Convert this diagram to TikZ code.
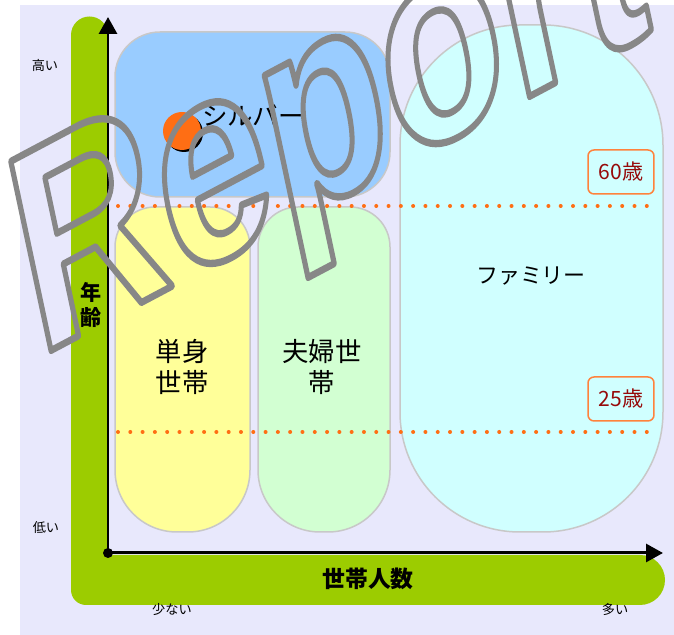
\documentclass[tikz,border=0pt]{standalone}
\usepackage{fontspec}
\setmainfont{Noto Sans CJK JP}
\newfontfamily\wmfont{Liberation Sans}
\usetikzlibrary{arrows.meta}

\definecolor{bglav}{RGB}{232,232,252}
\definecolor{bargreen}{RGB}{156,204,0}
\definecolor{silverblue}{RGB}{153,204,255}
\definecolor{singleyellow}{RGB}{255,255,153}
\definecolor{couplegreen}{RGB}{210,255,210}
\definecolor{familycyan}{RGB}{208,255,255}
\definecolor{regionline}{RGB}{200,200,200}
\definecolor{dotorange}{RGB}{255,110,20}
\definecolor{boxorange}{RGB}{255,130,60}
\definecolor{agered}{RGB}{150,10,10}
\definecolor{dotblack}{RGB}{0,0,0}

\begin{document}
\begin{tikzpicture}
        [x=0.02cm, y=0.02cm,
        region/.style={draw=regionline, line width=0.03cm},
        axis/.style={line width=0.06cm, -{Triangle[length=0.34cm,width=0.36cm]}},
        dotline/.style={draw=dotorange, line width=0.08cm, line cap=round, dash pattern=on 0pt off 0.246cm},
        agebox/.style={draw=boxorange, line width=0.03cm, rounded corners=0.12cm, fill=familycyan,
            minimum width=1.32cm, minimum height=0.88cm, text=agered, font=\fontsize{12}{13}\selectfont},
        smalllabel/.style={inner sep=0, font=\fontsize{7.5}{9}\selectfont},
        grouplabel/.style={inner sep=0, align=center, font=\fontsize{15}{17.6}\selectfont},
        namelabel/.style={inner sep=0, font=\fontsize{12.5}{14}\selectfont},
        axislabel/.style={inner sep=0, align=center, font=\bfseries\fontsize{13}{16}\selectfont}]
        \useasboundingbox (0,0) rectangle (674,635);
        \fill[white] (0,0) rectangle (674,635);
        \fill[bglav] (20,0) rectangle (674,630);

        % green L
        \fill[bargreen] (71,45) arc[start angle=180,end angle=270,radius=15] -- (640,30)
            arc[start angle=-90,end angle=90,radius=25] -- (108,80) -- (108,600)
            arc[start angle=0,end angle=180,radius=18.5] -- cycle;

        \coordinate (O) at (108,82);
        \coordinate (ytip) at (108,618);
        \coordinate (xtip) at (663,82);
        \draw[axis] (O) -- (ytip);
        \draw[axis] (O) -- (xtip);
        \fill (O) circle[radius=5];

        % regions
        \draw[region, fill=silverblue, rounded corners=0.9cm] (115,438) rectangle (390,603);
        \draw[region, fill=familycyan, rounded corners=2.4cm] (400,103) rectangle (663,610);
        \draw[region, fill=singleyellow] (115,165) -- (115,388) arc[start angle=180,end angle=90,radius=40]
            -- (210,428) arc[start angle=90,end angle=0,radius=40] -- (250,165)
            arc[start angle=0,end angle=-90,radius=62] -- (177,103) arc[start angle=270,end angle=180,radius=62] -- cycle;
        \draw[region, fill=couplegreen] (258,165) -- (258,388) arc[start angle=180,end angle=90,radius=40]
            -- (350,428) arc[start angle=90,end angle=0,radius=40] -- (390,165)
            arc[start angle=0,end angle=-90,radius=62] -- (320,103) arc[start angle=270,end angle=180,radius=62] -- cycle;

        \coordinate (d60a) at (118,429);
        \coordinate (d60b) at (648,429);
        \coordinate (d25a) at (118,203);
        \coordinate (d25b) at (648,203);
        \draw[dotline] (d60a) -- (d60b);
        \draw[dotline] (d25a) -- (d25b);

        \node[agebox] (age60) at (621,463) {60歳};
        \node[agebox] (age25) at (621,236) {25歳};

        \node[namelabel, font=\fontsize{14.5}{16}\selectfont] (silver) at (253,520) {シルバー};
        \node[namelabel] (family) at (531,359) {ファミリー};
        \node[grouplabel] (single) at (182,268) {単身\\世帯};
        \node[grouplabel] (couple) at (322,268) {夫婦世\\帯};

        \fill[dotblack] (184,502) circle[radius=19];
        \fill[dotorange] (182,504) circle[radius=19];

        \node[smalllabel] (high) at (45,570) {高い};
        \node[smalllabel] (low) at (46,107) {低い};
        \node[smalllabel] (few) at (172,25) {少ない};
        \node[smalllabel] (many) at (615,25) {多い};
        \node[axislabel] (persons) at (368,56) {世帯人数};
        \node[axislabel, font=\bfseries\fontsize{12}{14}\selectfont] (age) at (91,330) {年\\齢};

        % watermark
        \begin{scope}[shift={(38,277.6)}, cm={0.680,0.361,-0.208,0.978,(0,0)}]
        \node[transform shape, anchor=base west, inner sep=0] (report) at (0,0)
            {\special{pdf:literal direct 1 Tr 4 w 1 j 0.53 0.53 0.53 RG}\wmfont\bfseries\fontsize{160}{160}\selectfont Report\special{pdf:literal direct 0 Tr}};
        \end{scope}
    \end{tikzpicture}
\end{document}
